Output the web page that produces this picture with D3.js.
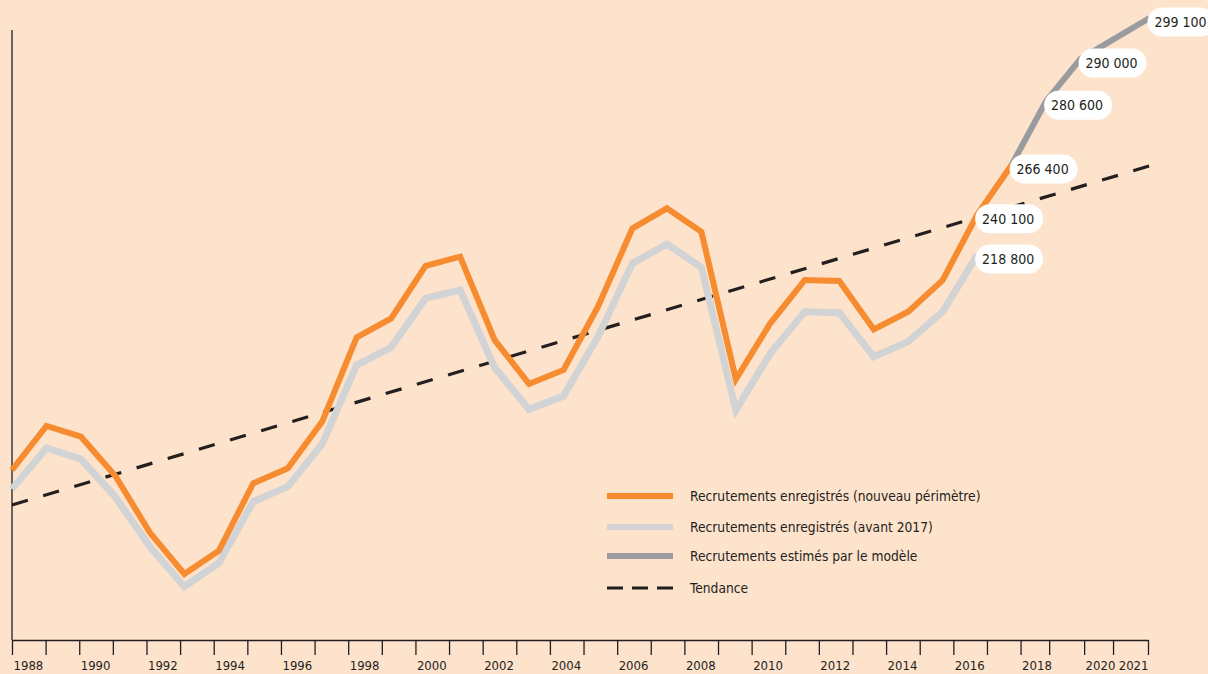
<!DOCTYPE html>
<html>
<head>
<meta charset="utf-8">
<script src="https://cdn.jsdelivr.net/npm/d3@7"></script>
<style>
    body { margin: 0; background: #fde2cc; }
    svg { display: block; font-family: "Liberation Sans Narrow", "DejaVu Sans Condensed", "Liberation Sans", sans-serif; }
</style>
</head>
<body>
<svg id="chart" width="1208" height="674"></svg>
<script>
// recrutements enregistres, nouveau perimetre (1988-2017)
var orangeYears = d3.range(1988, 2018);
var orangeValues = [105100, 128400, 122700, 101900, 72000, 50100, 62400, 98100, 106000, 130700,
                    175300, 185300, 213000, 217900, 173900, 150600, 158000, 191500, 232900, 243500,
                    231100, 153100, 182700, 205600, 205100, 179500, 188800, 205500, 240100, 266400];

// recrutements enregistres, avant 2017 (1988-2016)
var greyYears = d3.range(1988, 2017);
var greyValues = [95100, 116700, 110900, 90800, 64600, 43400, 55900, 88400, 96300, 118900,
                  160600, 170000, 195900, 200300, 159400, 137200, 144200, 175600, 214400, 224600,
                  212300, 136800, 166800, 188800, 188300, 165000, 173000, 188800, 218800];

// recrutements estimes par le modele
var estYears = [2017, 2018, 2019, 2021];
var estValues = [266400, 280600, 290000, 299100];

// tendance
var trendYears = [1988, 2021];
var trendValues = [86600, 265900];

// etiquettes
var labelYears = [2016, 2016, 2017, 2018, 2019, 2021];
var labelValues = [218800, 240100, 266400, 280600, 290000, 299100];

// axe des abscisses
var tickYears = d3.range(1988, 2019).concat([2018.85, 2019.89, 2020.75, 2021.79]);
var tickLabels = {1988: "1988", 1990: "1990", 1992: "1992", 1994: "1994", 1996: "1996", 1998: "1998",
                  2000: "2000", 2002: "2002", 2004: "2004", 2006: "2006", 2008: "2008", 2010: "2010",
                  2012: "2012", 2014: "2014", 2016: "2016", 2018: "2018", 2019.89: "2020", 2021.79: "2021"};

var legendNames = ["Recrutements enregistrés (nouveau périmètre)",
                   "Recrutements enregistrés (avant 2017)",
                   "Recrutements estimés par le modèle",
                   "Tendance"];

var ink = "#231f20";
var svg = d3.select("#chart");

var x = d3.scaleLinear().domain([1988, 2021]).range([12, 1149.5]);
var y = d3.scaleLinear().domain([15200, 266400, 299100]).range([640, 165, 18]);
var xAxisScale = d3.scaleLinear().domain([1988, 2021.79]).range([12, 1148]);

var fmt = d3.formatLocale({decimal: ",", thousands: " ", grouping: [3], currency: ["", " €"]}).format(",");

// axes
svg.append("line")
    .attr("x1", 12).attr("x2", 12)
    .attr("y1", 30).attr("y2", 640)
    .attr("stroke", ink).attr("stroke-width", 1.3);

var xAxis = d3.axisBottom(xAxisScale)
    .tickValues(tickYears)
    .tickSize(15)
    .tickSizeOuter(0)
    .tickFormat(function(d) { return tickLabels[d] || ""; });

var gx = svg.append("g")
    .attr("transform", "translate(0,640)")
    .call(xAxis);
gx.attr("font-family", null);
gx.select(".domain").attr("stroke", ink).attr("stroke-width", 1.3);
gx.selectAll(".tick line").attr("stroke", ink).attr("stroke-width", 1.3);
gx.selectAll(".tick text")
    .attr("fill", ink)
    .attr("font-size", 13)
    .attr("x", function(d) { return d > 2021 ? 0 : 1; })
    .attr("y", 21)
    .attr("dy", "0.71em")
    .attr("text-anchor", function(d) { return d > 2021 ? "end" : "start"; });

var line = d3.line()
    .x(function(d) { return x(d[0]); })
    .y(function(d) { return y(d[1]); });

// tendance
svg.append("path")
    .datum(d3.zip(trendYears, trendValues))
    .attr("d", line)
    .attr("fill", "none")
    .attr("stroke", ink)
    .attr("stroke-width", 3.2)
    .attr("stroke-dasharray", "16.5,16");

svg.append("path")
    .datum(d3.zip(greyYears, greyValues))
    .attr("d", line)
    .attr("fill", "none")
    .attr("stroke", "#d1d3d4")
    .attr("stroke-width", 7);

svg.append("path")
    .datum(d3.zip(estYears, estValues))
    .attr("d", line)
    .attr("fill", "none")
    .attr("stroke", "#9a9b9e")
    .attr("stroke-width", 6);

svg.append("path")
    .datum(d3.zip(orangeYears, orangeValues))
    .attr("d", line)
    .attr("fill", "none")
    .attr("stroke", "#f68b2f")
    .attr("stroke-width", 6);

// etiquettes
var labels = svg.selectAll(".lbl")
    .data(d3.zip(labelYears, labelValues))
    .enter().append("g")
    .attr("class", "lbl")
    .attr("transform", function(d) { return "translate(" + (x(d[0]) - 2) + "," + (y(d[1]) + 4) + ")"; });

labels.append("rect")
    .attr("x", 0).attr("y", -14.5)
    .attr("width", 68).attr("height", 29)
    .attr("rx", 14.5)
    .attr("fill", "#fff");

labels.append("text")
    .attr("x", 33).attr("y", 0)
    .attr("dy", "0.36em")
    .attr("text-anchor", "middle")
    .attr("font-size", 14)
    .attr("fill", ink)
    .text(function(d) { return fmt(d[1]); });

// legende
var legend = svg.append("g").attr("transform", "translate(607,496)");
var legItems = legend.selectAll("g")
    .data(legendNames)
    .enter().append("g")
    .attr("transform", function(d, i) { return "translate(0," + [0, 31, 60, 92][i] + ")"; });

legItems.append("line")
    .attr("x1", 0).attr("x2", 66)
    .attr("stroke", function(d, i) { return ["#f68b2f", "#d1d3d4", "#9a9b9e", ink][i]; })
    .attr("stroke-width", function(d, i) { return i == 3 ? 3 : 6; })
    .attr("stroke-dasharray", function(d, i) { return i == 3 ? "16,9" : null; });

legItems.append("text")
    .attr("x", 83)
    .attr("dy", "0.36em")
    .attr("font-size", 13.7)
    .attr("fill", ink)
    .text(function(d) { return d; });
</script>
</body>
</html>
